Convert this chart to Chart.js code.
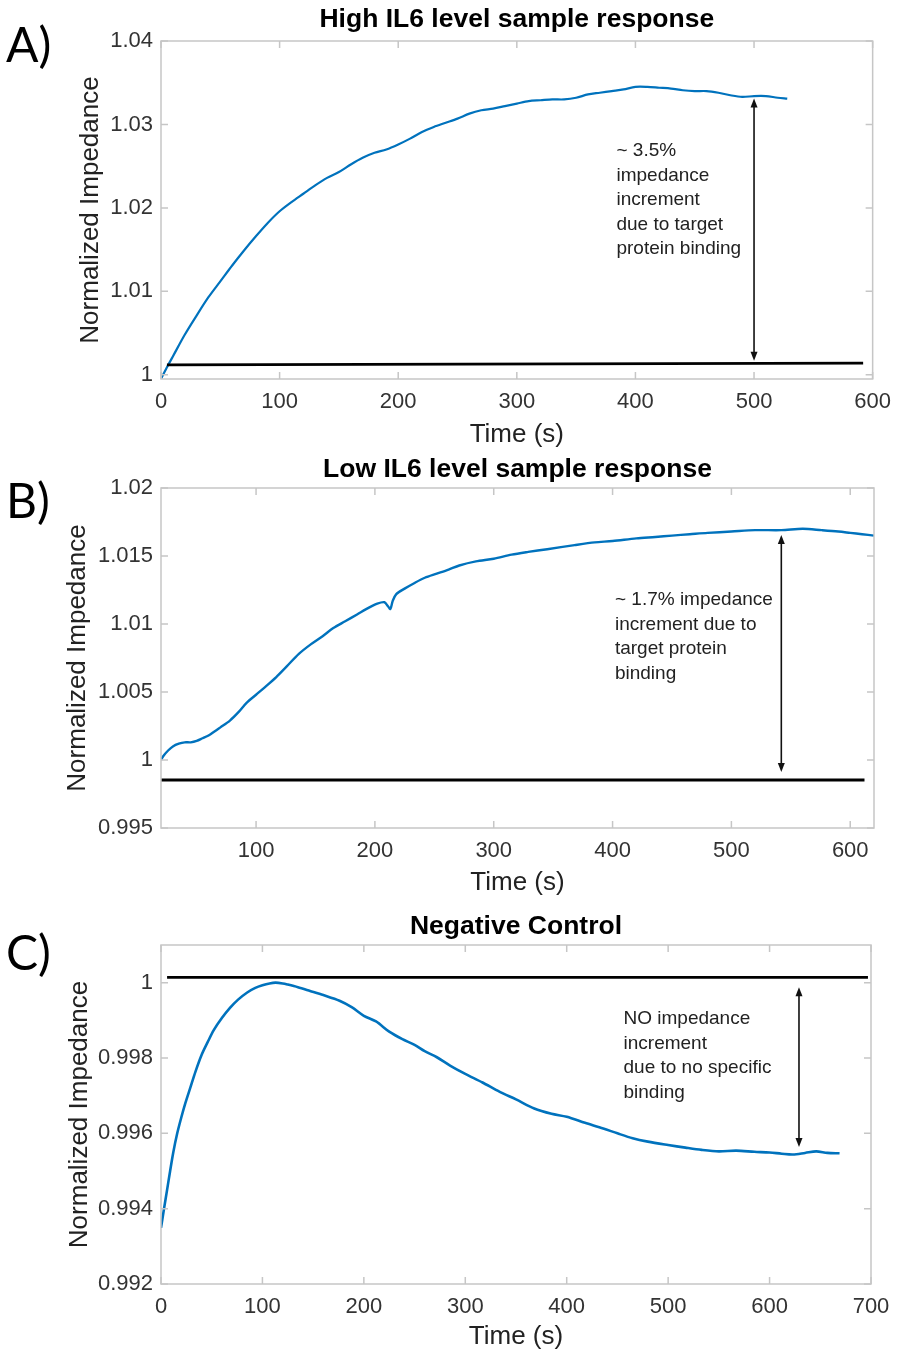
<!DOCTYPE html>
<html>
<head>
<meta charset="utf-8">
<title>IL6 impedance response</title>
<script src="https://cdn.jsdelivr.net/npm/chart.js@4.4.1/dist/chart.umd.min.js"></script>
<style>
    html, body { margin: 0; padding: 0; background: #fff; overflow: hidden; }
    canvas { position: absolute; left: 0; }
</style>
</head>
<body>
<canvas id="chartA" width="901" height="450" style="top:0px"></canvas>
<canvas id="chartB" width="901" height="450" style="top:450px"></canvas>
<canvas id="chartC" width="901" height="452" style="top:900px"></canvas>
<script>
// ---- A) high IL6 ----
const timeA = [0, 5, 10, 20, 30, 40, 50, 60, 70, 80, 90, 100, 110, 120, 130, 140, 150, 160, 170, 180, 190,
    200, 210, 220, 230, 240, 250, 260, 270, 280, 290, 300, 310, 320, 330, 340, 350, 360, 370, 380, 390,
    400, 410, 420, 430, 440, 450, 460, 470, 480, 490, 500, 510, 520, 528];
const impA = [0.9995, 1.0009, 1.0022, 1.0048, 1.0071, 1.0093, 1.0112, 1.0131, 1.0149, 1.0166, 1.0182,
    1.0196, 1.0207, 1.0217, 1.0227, 1.0236, 1.0243, 1.0252, 1.0260, 1.0266, 1.0270,
    1.0276, 1.0283, 1.0291, 1.0297, 1.0302, 1.0307, 1.0313, 1.0317, 1.0319, 1.0322,
    1.0325, 1.0328, 1.0329, 1.0330, 1.0330, 1.0332, 1.0336, 1.0338, 1.0340, 1.0342,
    1.0345, 1.0345, 1.0344, 1.0343, 1.0341, 1.0340, 1.0340, 1.0338, 1.0335, 1.0333,
    1.0334, 1.0334, 1.0332, 1.0331];
const baseTimeA = [5, 592];
const baseImpA = [1.0012, 1.0014];
const arrowTimeA = 500;
const arrowSpanA = [1.0331, 1.0017];
const xTicksA = [0, 100, 200, 300, 400, 500, 600];
const yTicksA = [1, 1.01, 1.02, 1.03, 1.04];
const yLabelsA = ['1', '1.01', '1.02', '1.03', '1.04'];
const noteA = ['~ 3.5%', 'impedance', 'increment', 'due to target', 'protein binding'];

// ---- B) low IL6 ----
const timeB = [20, 22, 26, 30, 35, 40, 45, 50, 55, 60, 65, 70, 78, 85, 92, 100, 108, 117, 126, 136, 146,
    156, 165, 175, 185, 195, 202, 208, 211, 213, 215, 218, 225, 233, 242, 252, 262, 271, 285, 300, 315,
    329, 345, 368, 385, 400, 420, 436, 450, 465, 480, 500, 520, 542, 560, 576, 590, 600, 610, 620];
const impB = [1.0000, 1.0003, 1.0007, 1.0010, 1.0012, 1.0013, 1.0013, 1.0014, 1.0016, 1.0018, 1.0021,
    1.0024, 1.0029, 1.0035, 1.0042, 1.0048, 1.0054, 1.0061, 1.0069, 1.0078, 1.0085,
    1.0091, 1.0097, 1.0102, 1.0107, 1.0112, 1.0115, 1.0116, 1.0113, 1.0111, 1.0117, 1.0122,
    1.0126, 1.0130, 1.0134, 1.0137, 1.0140, 1.0143, 1.0146, 1.0148, 1.0151,
    1.0153, 1.0155, 1.0158, 1.0160, 1.0161, 1.0163, 1.0164, 1.0165, 1.0166, 1.0167,
    1.0168, 1.0169, 1.0169, 1.0170, 1.0169, 1.0168, 1.0167, 1.0166, 1.0165];
const baseTimeB = [20, 612];
const baseImpB = [0.99853, 0.99853];
const arrowTimeB = 542;
const arrowSpanB = [1.01654, 0.99912];
const xTicksB = [100, 200, 300, 400, 500, 600];
const yTicksB = [0.995, 1, 1.005, 1.01, 1.015, 1.02];
const yLabelsB = ['0.995', '1', '1.005', '1.01', '1.015', '1.02'];
const noteB = ['~ 1.7% impedance', 'increment due to', 'target protein', 'binding'];

// ---- C) negative control ----
const timeC = [0, 3, 6, 9, 12, 16, 20, 24, 29, 34, 40, 46, 52, 60, 68, 76, 85, 93, 100, 107, 113,
    120, 125, 135, 147, 160, 176, 188, 200, 212, 225, 238, 250, 260, 272, 285, 300, 317, 334, 350,
    368, 385, 400, 418, 436, 450, 465, 480, 500, 517, 533, 550, 567, 585, 600, 612, 623, 635, 646, 657, 669];
const impC = [0.99349, 0.99400, 0.99450, 0.99500, 0.99548, 0.99600, 0.99642, 0.99680, 0.99722, 0.99764,
    0.99808, 0.99842, 0.99874, 0.99906, 0.99933, 0.99955, 0.99974, 0.99986, 0.99993, 0.99998, 1.00000,
    0.99998, 0.99995, 0.99988, 0.99978, 0.99967, 0.99952, 0.99935, 0.99912, 0.99897, 0.99870, 0.99850,
    0.99835, 0.99818, 0.99802, 0.99780, 0.99758, 0.99735, 0.99710, 0.99690,
    0.99666, 0.99652, 0.99644, 0.99628, 0.99613, 0.99600, 0.99587, 0.99578, 0.99569, 0.99562,
    0.99556, 0.99552, 0.99554, 0.99551, 0.99549, 0.99546, 0.99544, 0.99548, 0.99552, 0.99548, 0.99547];
const baseTimeC = [6, 697];
const baseImpC = [1.00014, 1.00014];
const arrowTimeC = 629;
const arrowSpanC = [0.99988, 0.99564];
const xTicksC = [0, 100, 200, 300, 400, 500, 600, 700];
const yTicksC = [0.992, 0.994, 0.996, 0.998, 1];
const yLabelsC = ['0.992', '0.994', '0.996', '0.998', '1'];
const noteC = ['NO impedance', 'increment', 'due to no specific', 'binding'];

const FONT = '"Liberation Sans", Arial, sans-serif';
const BLUE = '#0072BD';

function toPoints(xs, ys){
    return xs.map((x, i) => ({ x: x, y: ys[i] }));
}

function drawArrowHead(ctx, x, y, dir){
    ctx.beginPath();
    ctx.moveTo(x, y);
    ctx.lineTo(x - 3.5, y - dir * 9);
    ctx.lineTo(x + 3.5, y - dir * 9);
    ctx.closePath();
    ctx.fill();
}

// box, inner ticks, arrow, note, title and panel letter
const figureExtras = {
    id: 'figureExtras',
    afterDraw(chart, args, opts){
        const ctx = chart.ctx;
        const a = chart.chartArea;
        const xs = chart.scales.x;
        const ys = chart.scales.y;

        ctx.save();

        ctx.strokeStyle = '#c6c6c6';
        ctx.lineWidth = 1.5;
        ctx.strokeRect(a.left, a.top, a.right - a.left, a.bottom - a.top);

        ctx.beginPath();
        xs.ticks.forEach(t => {
            const px = xs.getPixelForValue(t.value);
            ctx.moveTo(px, a.bottom);
            ctx.lineTo(px, a.bottom - 7);
            ctx.moveTo(px, a.top);
            ctx.lineTo(px, a.top + 7);
        });
        ys.ticks.forEach(t => {
            const py = ys.getPixelForValue(t.value);
            ctx.moveTo(a.left, py);
            ctx.lineTo(a.left + 7, py);
            ctx.moveTo(a.right, py);
            ctx.lineTo(a.right - 7, py);
        });
        ctx.stroke();

        // double arrow
        const ax = xs.getPixelForValue(opts.arrowAt);
        const y1 = ys.getPixelForValue(opts.arrowSpan[0]);
        const y2 = ys.getPixelForValue(opts.arrowSpan[1]);
        ctx.strokeStyle = '#111';
        ctx.fillStyle = '#111';
        ctx.lineWidth = 1.6;
        ctx.beginPath();
        ctx.moveTo(ax, y1 + 4);
        ctx.lineTo(ax, y2 - 4);
        ctx.stroke();
        drawArrowHead(ctx, ax, y1, -1);
        drawArrowHead(ctx, ax, y2, 1);

        // note
        ctx.fillStyle = '#222';
        ctx.font = '19px ' + FONT;
        ctx.textAlign = 'left';
        ctx.textBaseline = 'middle';
        const nx = xs.getPixelForValue(opts.noteAt[0]);
        const ny = ys.getPixelForValue(opts.noteAt[1]);
        opts.note.forEach((line, i) => {
            ctx.fillText(line, nx, ny + i * 24.5);
        });

        // title
        ctx.fillStyle = '#000';
        ctx.font = 'bold 26.5px ' + FONT;
        ctx.textAlign = 'center';
        ctx.fillText(opts.title, (a.left + a.right) / 2, opts.titleY);

        // panel letter
        ctx.font = '48px Lato, ' + FONT;
        ctx.textAlign = 'left';
        ctx.fillText(opts.letter, 6, opts.letterY);

        ctx.restore();
    }
};

Chart.register(figureExtras);

function makePanel(id, cfg){
    return new Chart(document.getElementById(id), {
        type: 'line',
        data: {
            datasets: [{
                data: toPoints(cfg.time, cfg.imp),
                borderColor: BLUE,
                borderWidth: cfg.lineWidth,
                pointRadius: 0,
                tension: 0.3,
                order: 2
            }, {
                data: toPoints(cfg.baseTime, cfg.baseImp),
                borderColor: '#000',
                borderWidth: 2.8,
                pointRadius: 0,
                order: 1
            }]
        },
        options: {
            responsive: false,
            animation: false,
            events: [],
            layout: {
                padding: { left: 0, right: cfg.padRight, top: cfg.padTop, bottom: 0 }
            },
            plugins: {
                legend: { display: false },
                tooltip: { enabled: false },
                figureExtras: {
                    title: cfg.title,
                    titleY: cfg.titleY,
                    letter: cfg.letter,
                    letterY: cfg.letterY,
                    note: cfg.note,
                    noteAt: cfg.noteAt,
                    arrowAt: cfg.arrowAt,
                    arrowSpan: cfg.arrowSpan
                }
            },
            scales: {
                x: {
                    type: 'linear',
                    min: cfg.xMin,
                    max: cfg.xMax,
                    bounds: 'data',
                    grid: { display: false, drawTicks: false },
                    border: { display: false },
                    afterBuildTicks: scale => { scale.ticks = cfg.xTicks.map(v => ({ value: v })); },
                    afterFit: scale => { scale.height = cfg.xAxisHeight; },
                    ticks: {
                        autoSkip: false,
                        maxRotation: 0,
                        padding: 10,
                        color: '#333',
                        font: { family: FONT, size: 22 },
                        callback: v => String(v)
                    },
                    title: {
                        display: true,
                        text: 'Time (s)',
                        color: '#222',
                        font: { family: FONT, size: 26 },
                        padding: { top: 0, bottom: cfg.xTitlePad }
                    }
                },
                y: {
                    type: 'linear',
                    min: cfg.yMin,
                    max: cfg.yMax,
                    bounds: 'data',
                    grid: { display: false, drawTicks: false },
                    border: { display: false },
                    afterBuildTicks: scale => { scale.ticks = cfg.yTicks.map(v => ({ value: v })); },
                    afterFit: scale => { scale.width = 161; },
                    ticks: {
                        autoSkip: false,
                        padding: 8,
                        color: '#333',
                        font: { family: FONT, size: 22 },
                        callback: (v, i) => cfg.yLabels[i]
                    },
                    title: {
                        display: true,
                        text: 'Normalized Impedance',
                        color: '#222',
                        font: { family: FONT, size: 26 },
                        padding: { top: cfg.yTitlePad, bottom: 0 }
                    }
                }
            }
        }
    });
}

makePanel('chartA', {
    time: timeA, imp: impA, baseTime: baseTimeA, baseImp: baseImpA,
    xMin: 0, xMax: 600, yMin: 0.9995, yMax: 1.04,
    xTicks: xTicksA, yTicks: yTicksA, yLabels: yLabelsA,
    padTop: 41, padRight: 22, xAxisHeight: 71, xTitlePad: 0, yTitlePad: 75,
    title: 'High IL6 level sample response', titleY: 20,
    letter: 'A)', letterY: 47,
    note: noteA, noteAt: [384, 1.0268],
    arrowAt: arrowTimeA, arrowSpan: arrowSpanA, lineWidth: 2.2
});

makePanel('chartB', {
    time: timeB, imp: impB, baseTime: baseTimeB, baseImp: baseImpB,
    xMin: 20, xMax: 620, yMin: 0.995, yMax: 1.02,
    xTicks: xTicksB, yTicks: yTicksB, yLabels: yLabelsB,
    padTop: 38, padRight: 27, xAxisHeight: 72, xTitlePad: 2, yTitlePad: 62,
    title: 'Low IL6 level sample response', titleY: 20,
    letter: 'B)', letterY: 53,
    note: noteB, noteAt: [402, 1.01176],
    arrowAt: arrowTimeB, arrowSpan: arrowSpanB, lineWidth: 2.4
});

makePanel('chartC', {
    time: timeC, imp: impC, baseTime: baseTimeC, baseImp: baseImpC,
    xMin: 0, xMax: 700, yMin: 0.992, yMax: 1.001,
    xTicks: xTicksC, yTicks: yTicksC, yLabels: yLabelsC,
    padTop: 45, padRight: 30, xAxisHeight: 68, xTitlePad: 0, yTitlePad: 64,
    title: 'Negative Control', titleY: 27,
    letter: 'C)', letterY: 55,
    note: noteC, noteAt: [456, 0.99904],
    arrowAt: arrowTimeC, arrowSpan: arrowSpanC, lineWidth: 2.6
});
</script>
</body>
</html>
